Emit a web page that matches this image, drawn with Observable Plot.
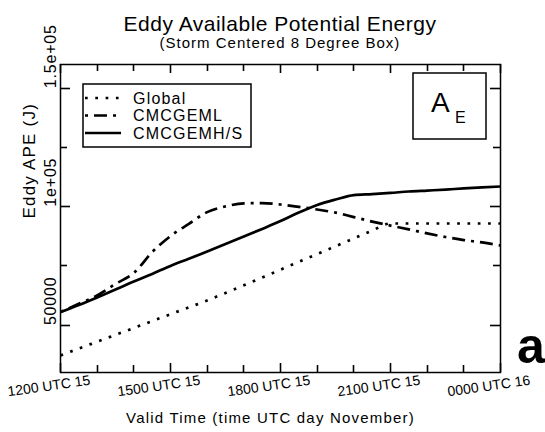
<!DOCTYPE html>
<html>
<head>
<meta charset="utf-8">
<script src="https://cdn.jsdelivr.net/npm/d3@7"></script>
<script src="https://cdn.jsdelivr.net/npm/@observablehq/plot@0.6"></script>
<style>
  body { margin: 0; background: #fff; }
  #wrap { position: relative; width: 545px; height: 432px; font-family: "Liberation Sans", Arial, sans-serif; }
  #overlay { position: absolute; left: 0; top: 0; pointer-events: none; }
  #chart svg g[font-size="15"] text { letter-spacing: 1.2px; }
  #chart svg g[font-size="16"] text { letter-spacing: 0.8px; }
  #chart svg g[font-size="17"] text { letter-spacing: 1.2px; }
</style>
</head>
<body>
<div id="wrap">
  <div id="chart"></div>
</div>
<script>
// ---- data ----
const hours = [0, 0.5, 1, 1.5, 2, 2.5, 3, 3.5, 4, 4.5, 5, 5.5, 6, 6.5, 7, 7.5, 8, 8.5, 9, 9.5, 10, 10.5, 11, 11.5, 12];
const globalAPE = [37200, 40100, 43000, 45900, 48800, 51700, 54600, 57500, 60400, 63600, 66800, 70100, 73400, 76700, 80000, 83300, 86600, 89900, 92900, 92900, 92900, 92900, 92900, 92900, 92900];
const cmcgemlAPE = [55500, 59000, 62500, 67400, 72000, 80800, 87600, 92700, 97700, 100100, 101400, 101500, 100900, 99900, 98800, 97500, 95600, 93700, 92000, 90400, 88700, 87200, 85900, 84900, 83600];
const cmcgemhsAPE = [55500, 58500, 61700, 65000, 68400, 71600, 75000, 78000, 81100, 84200, 87400, 90600, 93900, 97500, 100700, 103000, 104900, 105300, 105800, 106400, 106800, 107200, 107700, 108100, 108500];

const seriesNames = ["Global", "CMCGEML", "CMCGEMH/S"];
const xMajorHours = [0, 3, 6, 9, 12];
const xTickLabels = ["1200 UTC 15", "1500 UTC 15", "1800 UTC 15", "2100 UTC 15", "0000 UTC 16"];
const xMinorHours = [1, 2, 4, 5, 7, 8, 10, 11];
const yMajorValues = [50000, 100000, 150000];
const yTickLabels = ["50000", "1e+05", "1.5e+05"];
const yMinorValues = [75000, 125000];

// ---- layout ----
const W = 545, H = 432, mt = 64, mb = 60, ml = 60, mr = 45;
const FONT = "'Liberation Sans', Arial, sans-serif";

const rows = (vals) => hours.map((h, i) => ({hour: h, value: vals[i]}));
const xLabelRows = xMajorHours.map((h, i) => ({hour: h, label: xTickLabels[i]}));
const yLabelRows = yMajorValues.map((v, i) => ({value: v, label: yTickLabels[i]}));

const lineBase = {x: "hour", y: "value", stroke: "black", strokeWidth: 2.7, curve: "monotone-x", strokeLinecap: "butt", strokeLinejoin: "round"};

const chart = Plot.plot({
  width: W, height: H,
  marginTop: mt, marginBottom: mb, marginLeft: ml, marginRight: mr,
  style: {fontFamily: FONT, background: "white", color: "black", overflow: "visible"},
  x: {domain: [0, 12], axis: null},
  y: {domain: [30000, 160000], axis: null},
  marks: [
    Plot.line(rows(globalAPE), {...lineBase, strokeDasharray: "2.7,7.6"}),
    Plot.line(rows(cmcgemlAPE), {...lineBase, strokeDasharray: "3,6,13,6"}),
    Plot.line(rows(cmcgemhsAPE), {...lineBase}),
    Plot.frame({stroke: "black", strokeWidth: 1.5}),
    // tick labels
    Plot.text(xLabelRows, {x: "hour", text: "label", frameAnchor: "bottom", dy: 18, dx: -11, rotate: -8, fontSize: 14, fill: "black"}),
    Plot.text(yLabelRows, {y: "value", text: "label", frameAnchor: "left", dx: -10, rotate: -90, fontSize: 16, fill: "black"}),
    // axis titles
    Plot.text(["Eddy APE (J)"], {text: d => d, frameAnchor: "left", dx: -31, rotate: -90, fontSize: 17, fill: "black"}),
    Plot.text(["Valid Time (time UTC day November)"], {text: d => d, frameAnchor: "bottom", dx: -10, dy: 50, fontSize: 15, fill: "black"})
  ]
});
document.getElementById("chart").appendChild(chart);

// ---- overlay: inward ticks (positioned through Plot's scales), title, legend, A_E box, panel letter ----
const sx = chart.scale("x"), sy = chart.scale("y");
const fTop = mt, fBottom = H - mb, fLeft = ml, fRight = W - mr;
const fx = (h) => {
  const v = sx && sx.apply ? sx.apply(h) : NaN;
  return Number.isFinite(v) ? v : fLeft + (h - sx.domain[0]) / (sx.domain[1] - sx.domain[0]) * (fRight - fLeft);
};
const ov = d3.select("#wrap").append("svg")
  .attr("id", "overlay").attr("width", W).attr("height", H)
  .style("font-family", FONT);

const tickG = ov.append("g");
const tickLine = (x1, y1, x2, y2) => tickG.append("line")
  .attr("x1", x1).attr("y1", y1).attr("x2", x2).attr("y2", y2)
  .attr("stroke", "#000").attr("stroke-width", 1.6);
[[xMajorHours, 9], [xMinorHours, 7]].forEach(([vals, len]) => vals.forEach(h => {
  const px = Math.round(fx(h)) + 0.5;
  tickLine(px, fBottom, px, fBottom - len);
  tickLine(px, fTop, px, fTop + len);
}));
[[yMajorValues, 10], [yMinorValues, 7]].forEach(([vals, len]) => vals.forEach(v => {
  const py = Math.round(sy.apply(v)) + 0.5;
  tickLine(fLeft, py, fLeft + len, py);
  tickLine(fRight, py, fRight - len, py);
}));

ov.append("text").attr("x", 280).attr("y", 31).attr("text-anchor", "middle")
  .attr("font-size", 21).style("letter-spacing", "0.5px").text("Eddy Available Potential Energy");
ov.append("text").attr("x", 280).attr("y", 48).attr("text-anchor", "middle")
  .attr("font-size", 15).style("letter-spacing", "1px").text("(Storm Centered 8 Degree Box)");

// legend
const lg = ov.append("g");
lg.append("rect").attr("x", 83).attr("y", 84).attr("width", 168).attr("height", 63)
  .attr("fill", "white").attr("stroke", "black").attr("stroke-width", 1.5);
const dashes = ["2.7,7.6", "3,6,13,6", null];
seriesNames.forEach((name, i) => {
  const yy = 98 + i * 17.5;
  const ln = lg.append("line").attr("x1", 85).attr("x2", 121).attr("y1", yy).attr("y2", yy)
    .attr("stroke", "black").attr("stroke-width", 2.7);
  if (dashes[i]) ln.attr("stroke-dasharray", dashes[i]);
  lg.append("text").attr("x", 133).attr("y", yy + 5.5).attr("font-size", 16)
    .style("letter-spacing", "1.2px").text(name);
});

// A_E box
ov.append("rect").attr("x", 413).attr("y", 73).attr("width", 73).attr("height", 66)
  .attr("fill", "white").attr("stroke", "black").attr("stroke-width", 1.5);
ov.append("text").attr("x", 431).attr("y", 112).attr("font-size", 28).text("A");
ov.append("text").attr("x", 455).attr("y", 123).attr("font-size", 16).text("E");

// panel letter
ov.append("text").attr("x", 517).attr("y", 363).attr("font-size", 50).attr("font-weight", "bold").text("a");
</script>
</body>
</html>
